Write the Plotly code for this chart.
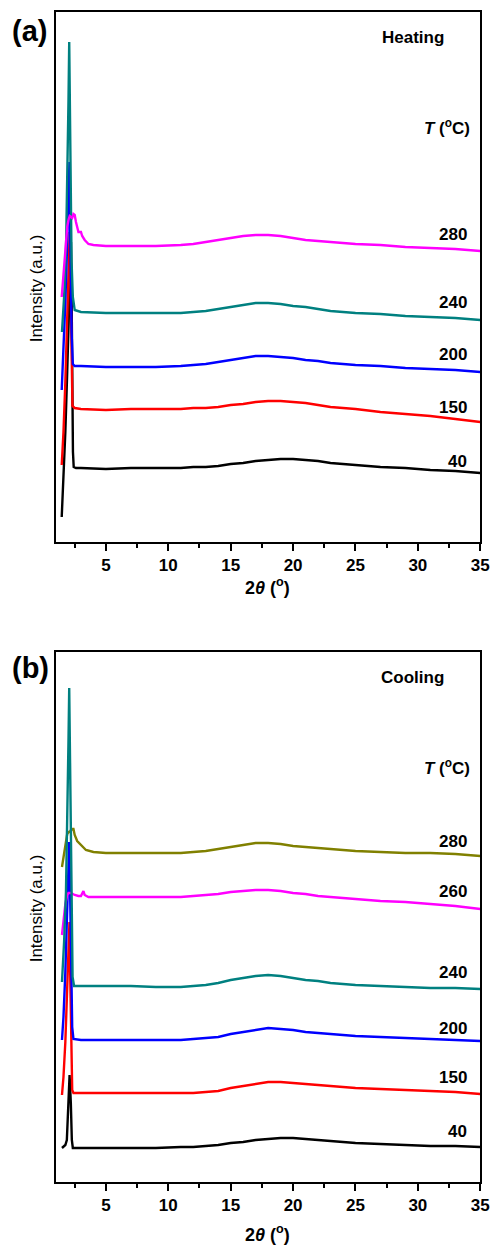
import plotly.graph_objects as go

# ---------------- DATA ----------------
# shared 2theta grid for the broad (amorphous) part of every curve
tail_x = [5, 7, 9, 11, 12, 13, 14, 15, 16, 17, 18, 19, 20, 21, 22, 23, 24, 25, 27, 29, 31, 33, 35]

# Panel (a) Heating : low-angle peak part (x, y) + tail part (y on tail_x)
a40_px  = [1.46, 1.6, 1.75, 1.9, 2.05, 2.15, 2.2, 2.25, 2.3, 2.36, 2.42, 2.6, 3]
a40_py  = [25, 60, 110, 170, 240, 290, 300, 250, 160, 90, 75, 74, 74]
a40_t   = [73, 74, 74, 74, 75, 75, 76, 78, 79, 81, 82, 83, 83, 82, 81, 79, 78, 77, 75, 74, 72, 71, 69]
a150_px = [1.46, 1.6, 1.75, 1.9, 2.0, 2.1, 2.18, 2.25, 2.32, 2.5, 3]
a150_py = [77, 110, 160, 220, 270, 310, 250, 170, 136, 134, 133]
a150_t  = [132, 133, 133, 133, 134, 134, 135, 137, 138, 140, 141, 141, 140, 139, 137, 135, 134, 133, 130, 128, 126, 123, 120]
a200_px = [1.46, 1.6, 1.75, 1.9, 2.0, 2.08, 2.15, 2.25, 2.35, 2.5, 3]
a200_py = [152, 190, 240, 300, 350, 380, 300, 210, 178, 176, 176]
a200_t  = [175, 175, 175, 176, 177, 178, 180, 182, 184, 186, 186, 185, 184, 182, 181, 179, 178, 177, 176, 174, 173, 172, 170]
a240_px = [1.48, 1.65, 1.8, 1.92, 2.0, 2.06, 2.11, 2.17, 2.25, 2.35, 2.5, 3]
a240_py = [210, 245, 290, 360, 440, 500, 440, 350, 280, 245, 232, 230]
a240_t  = [229, 229, 229, 229, 230, 231, 233, 235, 237, 239, 239, 238, 236, 235, 233, 231, 230, 229, 228, 226, 225, 224, 222]
a280_px = [1.46, 1.6, 1.75, 1.9, 2.0, 2.1, 2.2, 2.3, 2.4, 2.5, 2.6, 2.7, 2.8, 2.9, 3.0, 3.1, 3.3, 3.6, 4.0]
a280_py = [245, 270, 295, 315, 322, 326, 325, 324, 328, 327, 320, 313, 310, 310, 310, 306, 302, 298, 297]
a280_t  = [296, 296, 296, 297, 298, 300, 302, 304, 306, 307, 307, 306, 304, 302, 301, 300, 299, 298, 297, 295, 294, 293, 291]

# Panel (b) Cooling
b40_px  = [1.48, 1.75, 1.87, 2.0, 2.09, 2.19, 2.27, 2.35, 3]
b40_py  = [34, 37, 42, 79, 107, 79, 42, 34, 34]
b40_t   = [34, 34, 34, 35, 35, 36, 37, 39, 40, 42, 43, 44, 44, 43, 42, 41, 40, 39, 38, 37, 36, 36, 35]
b150_px = [1.48, 1.6, 1.75, 1.9, 2.0, 2.08, 2.15, 2.22, 2.3, 2.4, 3]
b150_py = [87, 105, 140, 190, 235, 260, 200, 130, 92, 89, 89]
b150_t  = [89, 89, 89, 89, 89, 90, 91, 94, 96, 98, 100, 100, 99, 98, 97, 96, 95, 94, 93, 92, 91, 90, 88]
b200_px = [1.48, 1.6, 1.75, 1.9, 2.0, 2.06, 2.12, 2.2, 2.3, 2.4, 3]
b200_py = [142, 165, 210, 270, 320, 340, 300, 220, 155, 143, 142]
b200_t  = [142, 142, 142, 142, 143, 144, 145, 148, 150, 152, 154, 153, 152, 150, 149, 148, 147, 146, 145, 144, 143, 142, 141]
b240_px = [1.48, 1.65, 1.8, 1.92, 2.0, 2.06, 2.11, 2.17, 2.25, 2.33, 2.45, 3]
b240_py = [200, 240, 290, 360, 440, 494, 440, 350, 260, 205, 196, 196]
b240_t  = [196, 196, 195, 195, 196, 197, 199, 202, 204, 206, 207, 206, 204, 202, 201, 199, 198, 197, 196, 195, 194, 194, 193]
b260_px = [1.48, 1.6, 1.75, 1.9, 2.0, 2.2, 2.5, 2.8, 3.0, 3.2, 3.3, 3.6, 4]
b260_py = [247, 260, 278, 287, 289, 289, 287, 286, 286, 291, 287, 285, 285]
b260_t  = [285, 285, 285, 285, 286, 287, 288, 290, 291, 292, 292, 291, 289, 288, 286, 285, 284, 283, 281, 280, 278, 276, 273]
b280_px = [1.48, 1.6, 1.75, 1.9, 2.0, 2.1, 2.2, 2.3, 2.4, 2.5, 2.7, 3.0, 3.4, 4.0]
b280_py = [315, 325, 338, 348, 350, 350, 352, 353, 353, 347, 341, 337, 332, 330]
b280_t  = [329, 329, 329, 329, 330, 331, 333, 335, 337, 339, 339, 338, 336, 335, 334, 333, 332, 331, 330, 329, 329, 328, 326]

temps_a = ["40", "150", "200", "240", "280"]
temps_b = ["40", "150", "200", "240", "260", "280"]
label_y_a = [81, 135, 188, 240, 308]
label_y_b = [51, 105, 154, 210, 291, 341]
x_ticks = [5, 10, 15, 20, 25, 30, 35]
x_minor = [2.5, 7.5, 12.5, 17.5, 22.5, 27.5, 32.5]

# ---------------- STYLE ----------------
W, H = 504, 1247
FONT = "Arial, Liberation Sans, sans-serif"
BLACK, RED, BLUE, TEAL, MAGENTA, OLIVE = "#000000", "#ff0000", "#0000ff", "#008080", "#ff00ff", "#808000"


def px(xp):
    return xp / W


def py(yp):
    return 1 - yp / H


fig = go.Figure()

series_a = [(a40_px, a40_py, a40_t, BLACK), (a150_px, a150_py, a150_t, RED),
            (a200_px, a200_py, a200_t, BLUE), (a240_px, a240_py, a240_t, TEAL),
            (a280_px, a280_py, a280_t, MAGENTA)]
for xp, yp, yt, c in series_a:
    fig.add_trace(go.Scatter(x=xp + tail_x, y=yp + yt, mode="lines",
                             line=dict(color=c, width=2.4),
                             xaxis="x", yaxis="y", showlegend=False, hoverinfo="skip"))

series_b = [(b40_px, b40_py, b40_t, BLACK), (b150_px, b150_py, b150_t, RED),
            (b200_px, b200_py, b200_t, BLUE), (b260_px, b260_py, b260_t, MAGENTA),
            (b280_px, b280_py, b280_t, OLIVE), (b240_px, b240_py, b240_t, TEAL)]
for xp, yp, yt, c in series_b:
    fig.add_trace(go.Scatter(x=xp + tail_x, y=yp + yt, mode="lines",
                             line=dict(color=c, width=2.4),
                             xaxis="x2", yaxis="y2", showlegend=False, hoverinfo="skip"))

xdom = [px(57), px(489)]
ydom_a = [py(542), py(12)]
ydom_b = [py(1182), py(652)]

xax = dict(domain=xdom, range=[1, 35], showline=True, linecolor="black", linewidth=1.5,
           mirror=True, ticks="outside", ticklen=7, tickwidth=1.5, tickcolor="black",
           tickvals=x_ticks, showgrid=False, zeroline=False,
           tickfont=dict(family=FONT, size=17, color="black", weight="bold"),
           minor=dict(tickvals=x_minor, ticks="outside",
                      ticklen=4, tickwidth=1.5, tickcolor="black", showgrid=False))
yax = dict(range=[0, 530], showline=True, linecolor="black", linewidth=1.5, mirror=True,
           ticks="", showticklabels=False, showgrid=False, zeroline=False)

fig.update_layout(
    width=W, height=H, autosize=False, margin=dict(l=0, r=0, t=0, b=0, pad=0),
    paper_bgcolor="white", plot_bgcolor="white",
    xaxis=dict(xax, anchor="y"),
    yaxis=dict(yax, domain=ydom_a, anchor="x"),
    xaxis2=dict(xax, anchor="y2"),
    yaxis2=dict(yax, domain=ydom_b, anchor="x2"),
)

ann = []


def add_text(text, x, y, size, xanchor="center", yanchor="middle", angle=0, weight="bold"):
    ann.append(dict(text=text, x=px(x), y=py(y), xref="paper", yref="paper",
                    xanchor=xanchor, yanchor=yanchor, showarrow=False, textangle=angle,
                    font=dict(family=FONT, size=size, color="black", weight=weight)))


add_text("(a)", 30, 31, 29)
add_text("(b)", 31, 668, 29)
add_text("Heating", 420, 37, 17)
add_text("Cooling", 420, 677, 17)
add_text("<i>T</i> (<sup>o</sup>C)", 481, 127, 17, xanchor="right")
add_text("<i>T</i> (<sup>o</sup>C)", 481, 767, 17, xanchor="right")
add_text("2<i>θ</i> (<sup>o</sup>)", 272, 586, 18)
add_text("2<i>θ</i> (<sup>o</sup>)", 272, 1233, 18)
add_text("Intensity (a.u.)", 37, 288, 17, angle=-90, weight="normal")
add_text("Intensity (a.u.)", 37, 908, 17, angle=-90, weight="normal")

for t, yv in zip(temps_a, label_y_a):
    ann.append(dict(text=t, x=34.1, y=yv, xref="x", yref="y", xanchor="right", yanchor="middle",
                    showarrow=False, font=dict(family=FONT, size=17, color="black", weight="bold")))
for t, yv in zip(temps_b, label_y_b):
    ann.append(dict(text=t, x=34.1, y=yv, xref="x2", yref="y2", xanchor="right", yanchor="middle",
                    showarrow=False, font=dict(family=FONT, size=17, color="black", weight="bold")))

fig.update_layout(annotations=ann)
fig.write_html("out.html", config={"responsive": False})
